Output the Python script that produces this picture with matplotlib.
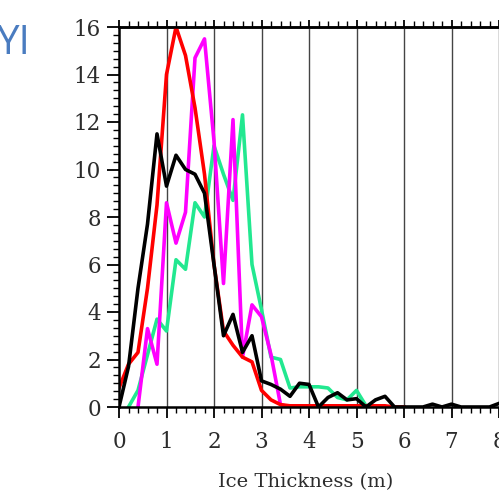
import numpy as np
import matplotlib.pyplot as plt
from matplotlib.ticker import MultipleLocator

# Ice thickness bins (m), 0.2 m steps
thickness = np.linspace(0.0, 8.0, 41)

nan = np.nan

# Frequency (%) per thickness bin
black = [0.0, 1.7, 5.0, 7.7, 11.5, 9.3, 10.6, 10.0, 9.8, 9.0,
         6.0, 3.0, 3.9, 2.3, 3.0, 1.1, 0.95, 0.75, 0.45, 1.0,
         0.95, 0.0, 0.4, 0.6, 0.3, 0.35, 0.0, 0.3, 0.45, 0.0,
         0.0, 0.0, 0.0, 0.12, 0.0, 0.12, 0.0, 0.0, 0.0, 0.0, 0.15]
red = [0.8, 1.8, 2.3, 5.0, 8.5, 14.0, 16.0, 14.8, 12.6, 9.8,
       6.0, 3.2, 2.6, 2.1, 1.9, 0.7, 0.3, 0.1, 0.05, 0.05,
       0.05, 0.05, 0.05, 0.05, 0.05, 0.05, 0.05, 0.05, 0.05, 0.0,
       0.0, nan, nan, nan, nan, nan, nan, nan, nan, nan, nan]
magenta = [nan, nan, 0.0, 3.3, 1.8, 8.6, 6.9, 8.2, 14.7, 15.5,
           11.2, 5.2, 12.1, 2.1, 4.3, 3.8, 2.2, 0.1, 0.0, 0.0,
           nan, nan, nan, nan, nan, nan, nan, nan, nan, nan,
           nan, nan, nan, nan, nan, nan, nan, nan, nan, nan, nan]
green = [nan, 0.0, 0.7, 2.2, 3.7, 3.2, 6.2, 5.8, 8.6, 8.0,
         11.0, 9.8, 8.7, 12.3, 6.0, 4.1, 2.1, 2.0, 0.8, 0.85,
         0.85, 0.85, 0.8, 0.4, 0.3, 0.7, 0.05, 0.0, nan, nan,
         nan, nan, nan, nan, nan, nan, nan, nan, nan, nan, nan]

fig = plt.figure(figsize=(4.99, 4.93), dpi=100)
ax = fig.add_axes([119 / 499, 86 / 493, 389.5 / 499, 380 / 493])

# vertical grid at every metre
for xv in range(1, 9):
    ax.axvline(xv, color='#444444', lw=1.0, zorder=1)

lw = 2.6
ax.plot(thickness, green, color='#22e890', lw=lw, zorder=3)
ax.plot(thickness, magenta, color='#ff00ff', lw=lw, zorder=4)
ax.plot(thickness, red, color='#ff0000', lw=lw, zorder=5)
ax.plot(thickness, black, color='black', lw=lw, zorder=6)

ax.set_xlim(0, 8.2)
ax.set_ylim(0, 16)

ax.spines['right'].set_visible(False)
for s in ['left', 'bottom', 'top']:
    ax.spines[s].set_linewidth(1.8)
    ax.spines[s].set_zorder(7)

ax.xaxis.set_major_locator(MultipleLocator(1))
ax.xaxis.set_minor_locator(MultipleLocator(0.2))
ax.yaxis.set_major_locator(MultipleLocator(2))
ax.yaxis.set_minor_locator(MultipleLocator(2 / 6))

ax.tick_params(axis='both', which='major', direction='out', width=1.3,
               labelsize=15.5, labelcolor='#2c2c2c')
ax.tick_params(axis='both', which='minor', direction='out', width=1.0)
ax.tick_params(axis='x', which='major', length=8, pad=9)
ax.tick_params(axis='x', which='minor', length=4)
ax.tick_params(axis='y', which='major', length=9, pad=4)
ax.tick_params(axis='y', which='minor', length=4)
ax.tick_params(right=False, which='both')

for lab in ax.get_xticklabels() + ax.get_yticklabels():
    lab.set_fontfamily('DejaVu Serif')

# ticks along the top edge
top = ax.secondary_xaxis('top')
top.xaxis.set_major_locator(MultipleLocator(1))
top.xaxis.set_minor_locator(MultipleLocator(0.2))
top.tick_params(which='major', direction='out', length=5, width=1.3, labeltop=False)
top.tick_params(which='minor', direction='out', length=4, width=1.0)
top.spines['top'].set_linewidth(1.8)

ax.set_xlabel('Ice Thickness (m)', fontsize=14, fontfamily='DejaVu Serif',
              color='#2c2c2c')
ax.xaxis.set_label_coords((306 - 119) / 389.5, -0.175)

fig.text(-0.006, 0.912, 'YI', fontsize=29, color='#4a7cc0',
         fontfamily='Open Sans', va='center', ha='left')

fig.savefig('out.png', dpi=100)
